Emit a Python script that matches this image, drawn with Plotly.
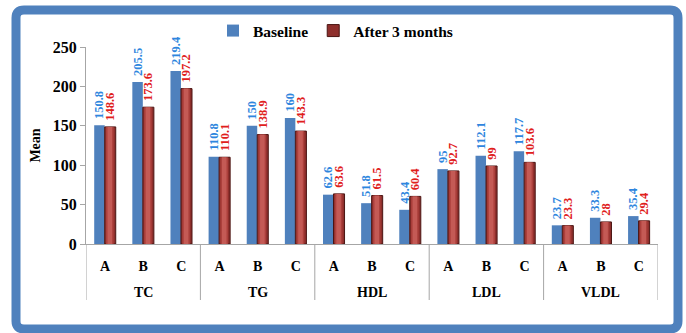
import plotly.graph_objects as go

# Lipid profile means by group, before and after 3 months
groups = ["TC", "TG", "HDL", "LDL", "VLDL"]
subgroups = ["A", "B", "C"]
baseline = [150.8, 205.5, 219.4, 110.8, 150, 160, 62.6, 51.8, 43.4,
            95, 112.1, 117.7, 23.7, 33.3, 35.4]
after_3m = [148.6, 173.6, 197.2, 110.1, 138.9, 143.3, 63.6, 61.5, 60.4,
            92.7, 99, 103.6, 23.3, 28, 29.4]
y_ticks = [0, 50, 100, 150, 200, 250]

W, H = 686, 333
L, R, T, B = 86, 28, 47, 89
PW, PH = W - L - R, H - T - B


def px_x(px):
    return (px - L) / PW


def px_y(py):
    return (H - B - py) / PH


n_sub = len(subgroups)
pos = list(range(len(groups) * n_sub))           # one slot per group/subgroup pair
tick_text = [s for _ in groups for s in subgroups]
serif = "Liberation Serif"
blue, red = "#4F81BD", "#8E2F2C"

fig = go.Figure()
fig.add_trace(go.Bar(
    name="Baseline", x=pos, y=baseline, offset=-0.285, width=0.275,
    marker=dict(color=blue, line=dict(width=0)),
    text=[f"\u00a0{v:g}" for v in baseline], textposition="outside", textangle=-90,
    textfont=dict(color="#2E86DE", size=12.5, family=serif, weight="bold"),
    cliponaxis=False, constraintext="none",
))
fig.add_trace(go.Bar(
    name="After 3 months", x=pos, y=after_3m, offset=-0.01, width=0.29,
    marker=dict(color=red, line=dict(color="#4A1513", width=1)),
    text=[f"\u00a0{v:g}" for v in after_3m], textposition="outside", textangle=-90,
    textfont=dict(color="#E0201B", size=12.5, family=serif, weight="bold"),
    cliponaxis=False, constraintext="none",
))
# lighter inner bands give the cylinder shading on the red bars
for off, wid, col in [(0.035, 0.2, "#AC403C"), (0.075, 0.12, "#C45A55")]:
    fig.add_trace(go.Bar(
        x=pos, y=after_3m, offset=-0.01 + off, width=wid,
        marker=dict(color=col, line=dict(width=0)),
        showlegend=False, hoverinfo="skip",
    ))

# group separators and group names under the subgroup labels
for g_i, g in enumerate(groups):
    fig.add_annotation(x=g_i * n_sub + (n_sub - 1) / 2, y=px_y(292), xref="x", yref="paper",
                       text=g, showarrow=False, yanchor="middle",
                       font=dict(size=14, family=serif, color="black", weight="bold"))
for b_i in range(len(groups) + 1):
    fig.add_shape(type="line", xref="x", yref="paper",
                  x0=b_i * n_sub - 0.5, x1=b_i * n_sub - 0.5, y0=0, y1=px_y(300),
                  line=dict(color="#A6A6A6", width=1))

# rounded blue frame around the chart
x0, x1 = px_x(16), px_x(678)
y0, y1 = px_y(329), px_y(10)
rx, ry = 8 / PW, 8 / PH
frame = (f"M {x0+rx},{y1} L {x1-rx},{y1} Q {x1},{y1} {x1},{y1-ry} "
         f"L {x1},{y0+ry} Q {x1},{y0} {x1-rx},{y0} L {x0+rx},{y0} "
         f"Q {x0},{y0} {x0},{y0+ry} L {x0},{y1-ry} Q {x0},{y1} {x0+rx},{y1} Z")
fig.add_shape(type="path", path=frame, xref="paper", yref="paper",
              line=dict(color="#4F81BD", width=9), fillcolor="rgba(0,0,0,0)",
              layer="below")

fig.update_layout(
    width=W, height=H,
    margin=dict(l=L, r=R, t=T, b=B, pad=0),
    paper_bgcolor="white", plot_bgcolor="white",
    barmode="overlay",
    font=dict(family=serif, color="black"),
    showlegend=True,
    legend=dict(orientation="h", x=px_x(213), y=px_y(14), xanchor="left", yanchor="top",
                font=dict(size=15.5, family=serif, color="black", weight="bold"),
                itemwidth=30, bgcolor="rgba(0,0,0,0)", traceorder="normal"),
    xaxis=dict(
        range=[-0.5, len(pos) - 0.5], tickvals=pos, ticktext=tick_text,
        showline=True, linecolor="#A6A6A6", linewidth=1, showgrid=False,
        zeroline=False, ticks="", ticklabelstandoff=9,
        tickfont=dict(size=14, family=serif, color="black", weight="bold"),
    ),
    yaxis=dict(
        range=[0, 250], tickvals=y_ticks, showline=True, linecolor="#A6A6A6",
        linewidth=1, showgrid=False, zeroline=False, ticks="outside",
        ticklen=5, tickcolor="#A6A6A6",
        tickfont=dict(size=16, family=serif, color="black", weight="bold"),
        title=dict(text="Mean", standoff=8,
                   font=dict(size=14, family=serif, color="black", weight="bold")),
    ),
)

fig.write_html("out.html")
